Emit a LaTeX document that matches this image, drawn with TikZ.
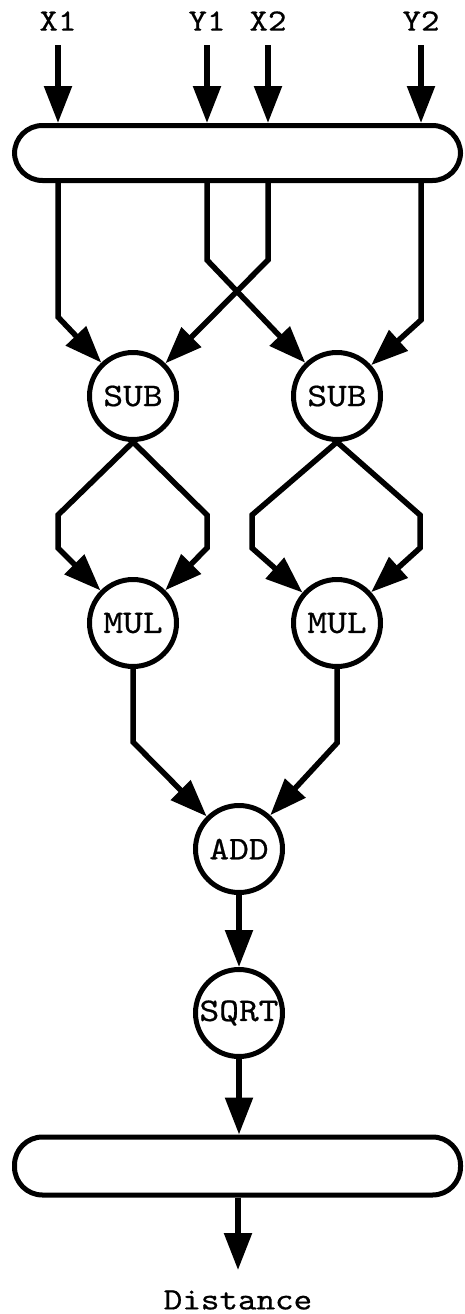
\documentclass[tikz,border=0pt]{standalone}
\usepackage{fontspec}
\usetikzlibrary{arrows.meta}
% wide typewriter face for all lettering
\newfontfamily\wtt{lmmono10-regular.otf}[FakeStretch=1.14,FakeBold=0.6]
\begin{document}
\begin{tikzpicture}[x=1pt,y=-1pt,
  wire/.style={line width=5.5pt,-{Triangle[length=37pt,width=27pt]}},
  opnode/.style={draw,circle,line width=5pt,minimum size=87pt,inner sep=0pt,
    font=\wtt\fontsize{33}{33}\selectfont},
  bar/.style={draw,line width=5pt,rounded corners=28pt,minimum width=446pt,
    inner sep=0pt},
  io/.style={inner sep=0pt,font=\wtt\fontsize{31}{31}\selectfont}]
\useasboundingbox (0,0) rectangle (465,1314);

% inputs and top bar
\node[io,minimum height=48pt] (lX1) at (58,21) {X1};
\node[io,minimum height=48pt] (lY1) at (207,21) {Y1};
\node[io,minimum height=48pt] (lX2) at (268,21) {X2};
\node[io,minimum height=48pt] (lY2) at (421,21) {Y2};
\node[bar,minimum height=55pt] (top) at (237.5,153) {};

% operators
\node[opnode] (sub1) at (133,396) {SUB};
\node[opnode] (sub2) at (337,396) {SUB};
\node[opnode] (mul1) at (133,623) {MUL};
\node[opnode] (mul2) at (337,623) {MUL};
\node[opnode] (add)  at (239,849) {ADD};
\node[opnode] (sqrt) at (239,1013) {SQRT};

% bottom bar and output
\node[bar,minimum height=58pt] (bot) at (237.5,1166) {};
\coordinate (outTip) at (238,1270);
\node[io] (dist) at (238,1300) {Distance};

% inputs into the top bar
\draw[wire] (lX1) -- (lX1 |- top.north);
\draw[wire] (lY1) -- (lY1 |- top.north);
\draw[wire] (lX2) -- (lX2 |- top.north);
\draw[wire] (lY2) -- (lY2 |- top.north);

% top bar to subtractions (crossed middle pair)
\draw[wire] (lX1 |- top.south) -- (58,317) -- (sub1);
\draw[wire] (lY1 |- top.south) -- (207,260) -- (sub2);
\draw[wire] (lX2 |- top.south) -- (268,260) -- (sub1);
\draw[wire] (lY2 |- top.south) -- (421,320) -- (sub2);

% squaring: each difference feeds both inputs of a multiply
\draw[wire] (sub1.south) -- (58,515) -- (58,548) -- (mul1);
\draw[wire] (sub1.south) -- (207,515) -- (207,548) -- (mul1);
\draw[wire] (sub2.south) -- (252,515) -- (252,548) -- (mul2);
\draw[wire] (sub2.south) -- (420,515) -- (420,548) -- (mul2);

% sum, root, output
\draw[wire] (mul1.south) -- (133,742) -- (add);
\draw[wire] (mul2.south) -- (337,743) -- (add);
\draw[wire] (add) -- (sqrt);
\draw[wire] (sqrt) -- (sqrt |- bot.north);
\draw[wire] (bot.south -| outTip) -- (outTip);
\end{tikzpicture}
\end{document}
